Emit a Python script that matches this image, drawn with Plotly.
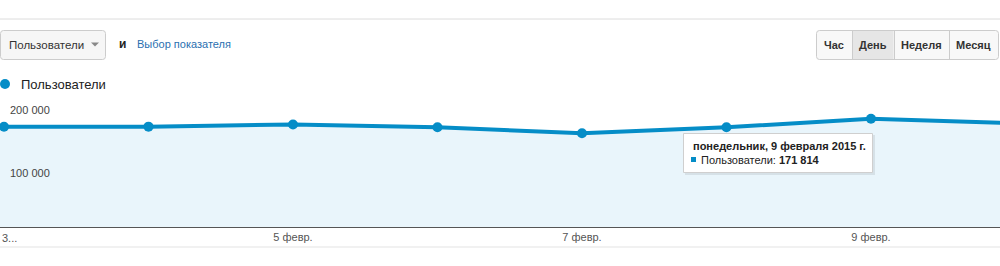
import plotly.graph_objects as go
import pandas as pd

# ---- data ----
dates = ["2015-02-02", "2015-02-03", "2015-02-04", "2015-02-05", "2015-02-06",
         "2015-02-07", "2015-02-08", "2015-02-09", "2015-02-10"]
users = [159000, 159200, 159300, 162800, 158200, 148700, 158200, 171814, 164900]
series_name = "Пользователи"
y_tickvals = [100000, 200000]
y_ticktext = ["100 000", "200 000"]
x_tickvals = ["2015-02-05", "2015-02-07", "2015-02-09"]
x_ticktext = ["5 февр.", "7 февр.", "9 февр."]
first_label = "3..."
period_buttons = ["Час", "День", "Неделя", "Месяц"]
selected_period = "День"
tooltip_title = "понедельник, 9 февраля 2015 г."
tooltip_date = "2015-02-09"

W, H = 1000, 266
PT, PB = 101, 227  # plot top / bottom in pixels
BLUE = "#058dc7"
FILL = "#e9f5fb"
FONT = "Liberation Sans, Arial, sans-serif"


def px(x):
    return x / W


def py(y):
    return (PB - y) / (PB - PT)


def rrect(x0, y0, x1, y1, r=3):
    rx, ry = r / W, r / (PB - PT)
    X0, X1 = px(x0), px(x1)
    Y0, Y1 = py(y0), py(y1)  # Y0 top (larger), Y1 bottom
    return (f"M{X0+rx},{Y0} L{X1-rx},{Y0} Q{X1},{Y0} {X1},{Y0-ry} "
            f"L{X1},{Y1+ry} Q{X1},{Y1} {X1-rx},{Y1} L{X0+rx},{Y1} "
            f"Q{X0},{Y1} {X0},{Y1+ry} L{X0},{Y0-ry} Q{X0},{Y0} {X0+rx},{Y0} Z")


d0 = pd.Timestamp("2015-02-03")
day = pd.Timedelta(days=1)
x_start = d0 - 0.0277 * day
x_end = d0 + 6.893 * day

fig = go.Figure()
fig.add_trace(go.Scatter(
    x=dates, y=users, mode="lines+markers", name=series_name,
    line=dict(color=BLUE, width=4), marker=dict(color=BLUE, size=10),
    fill="tozeroy", fillcolor=FILL, hoverinfo="skip", showlegend=False))

shapes = []
ann = []

# top separator and bottom line
shapes.append(dict(type="line", xref="paper", yref="paper", x0=0, x1=1,
                   y0=py(19), y1=py(19), line=dict(color="#dcdcdc", width=1)))
shapes.append(dict(type="line", xref="paper", yref="paper", x0=0, x1=1,
                   y0=py(247), y1=py(247), line=dict(color="#e3e3e3", width=1)))

# y tick labels, placed under their gridlines
for v, t in zip(y_tickvals, y_ticktext):
    ann.append(dict(text=t, x=px(8), y=v, xref="paper", yref="y",
                    xanchor="left", yanchor="top", yshift=-1, showarrow=False,
                    font=dict(size=11, color="#444444", family=FONT)))

# dropdown
shapes.append(dict(type="path", xref="paper", yref="paper",
                   path=rrect(0.5, 30.5, 105.5, 59.5, 3),
                   fillcolor="#f6f6f6", line=dict(color="#cccccc", width=1)))
ann.append(dict(text=series_name, x=px(7), y=py(45), xref="paper", yref="paper",
                xanchor="left", yanchor="middle", showarrow=False,
                font=dict(size=11.5, color="#333333", family=FONT)))
shapes.append(dict(type="path", xref="paper", yref="paper",
                   path=f"M{px(91)},{py(42.5)} L{px(99)},{py(42.5)} L{px(95)},{py(46.5)} Z",
                   fillcolor="#888888", line=dict(width=0)))
ann.append(dict(text="<b>и</b>", x=px(117), y=py(44), xref="paper", yref="paper",
                xanchor="left", yanchor="middle", showarrow=False,
                font=dict(size=12, color="#222222", family=FONT)))
ann.append(dict(text="Выбор показателя", x=px(135), y=py(44), xref="paper", yref="paper",
                xanchor="left", yanchor="middle", showarrow=False,
                font=dict(size=11, color="#2a6fb0", family=FONT)))

# period buttons
edges = [816, 852, 894, 949, 998]
shapes.append(dict(type="path", xref="paper", yref="paper",
                   path=rrect(816.5, 30.5, 998.5, 59.5, 3),
                   fillcolor="#f8f8f8", line=dict(color="#cccccc", width=1)))
for i, lab in enumerate(period_buttons):
    a, b = edges[i], edges[i + 1]
    if lab == selected_period:
        shapes.append(dict(type="rect", xref="paper", yref="paper",
                           x0=px(a + 0.5), x1=px(b - 0.5), y0=py(31), y1=py(59),
                           fillcolor="#e6e6e6", line=dict(width=0)))
    if i > 0:
        shapes.append(dict(type="line", xref="paper", yref="paper",
                           x0=px(a + 0.5), x1=px(a + 0.5), y0=py(31), y1=py(59),
                           line=dict(color="#cccccc", width=1)))
    ann.append(dict(text=f"<b>{lab}</b>", x=px((a + b) / 2), y=py(45),
                    xref="paper", yref="paper", xanchor="center", yanchor="middle",
                    showarrow=False, font=dict(size=11, color="#333333", family=FONT)))

# legend
shapes.append(dict(type="circle", xref="paper", yref="paper",
                   x0=px(0), x1=px(10), y0=py(79), y1=py(89),
                   fillcolor=BLUE, line=dict(width=0)))
ann.append(dict(text=series_name, x=px(19), y=py(84), xref="paper", yref="paper",
                xanchor="left", yanchor="middle", showarrow=False,
                font=dict(size=13, color="#222222", family=FONT)))

# first x label (truncated)
ann.append(dict(text=first_label, x=px(0), y=py(238), xref="paper", yref="paper",
                xanchor="left", yanchor="middle", showarrow=False,
                font=dict(size=11, color="#555555", family=FONT)))

# tooltip
shapes.append(dict(type="rect", xref="paper", yref="paper",
                   x0=px(685), x1=px(875), y0=py(135), y1=py(175),
                   fillcolor="rgba(0,0,0,0.08)", line=dict(width=0)))
shapes.append(dict(type="rect", xref="paper", yref="paper",
                   x0=px(683.5), x1=px(872.5), y0=py(133.5), y1=py(172.5),
                   fillcolor="white", line=dict(color="#cfcfcf", width=1)))
ann.append(dict(text=f"<b>{tooltip_title}</b>", x=px(691), y=py(146),
                xref="paper", yref="paper", xanchor="left", yanchor="middle",
                showarrow=False, font=dict(size=11, color="#222222", family=FONT)))
shapes.append(dict(type="rect", xref="paper", yref="paper",
                   x0=px(691), x1=px(696), y0=py(157), y1=py(162),
                   fillcolor=BLUE, line=dict(width=0)))
val = f"{users[dates.index(tooltip_date)]:,}".replace(",", " ")
ann.append(dict(text=f"{series_name}: <b>{val}</b>", x=px(699), y=py(159.5),
                xref="paper", yref="paper", xanchor="left", yanchor="middle",
                showarrow=False, font=dict(size=11, color="#222222", family=FONT)))

fig.update_layout(
    width=W, height=H,
    margin=dict(l=0, r=0, t=PT, b=H - PB),
    paper_bgcolor="white", plot_bgcolor="white",
    font=dict(family=FONT, size=11, color="#555555"),
    shapes=shapes, annotations=ann,
    xaxis=dict(range=[x_start, x_end], tickvals=x_tickvals, ticktext=x_ticktext,
               showgrid=False, zeroline=False, showline=True, linecolor="#555555",
               linewidth=1, ticks="", tickfont=dict(size=11, color="#555555"),
               fixedrange=True),
    yaxis=dict(range=[0, 200000], tickvals=y_tickvals, showticklabels=False,
               showgrid=True, gridcolor="#ececec", gridwidth=1, zeroline=False,
               showline=False, fixedrange=True),
)

fig.write_html("out.html")
